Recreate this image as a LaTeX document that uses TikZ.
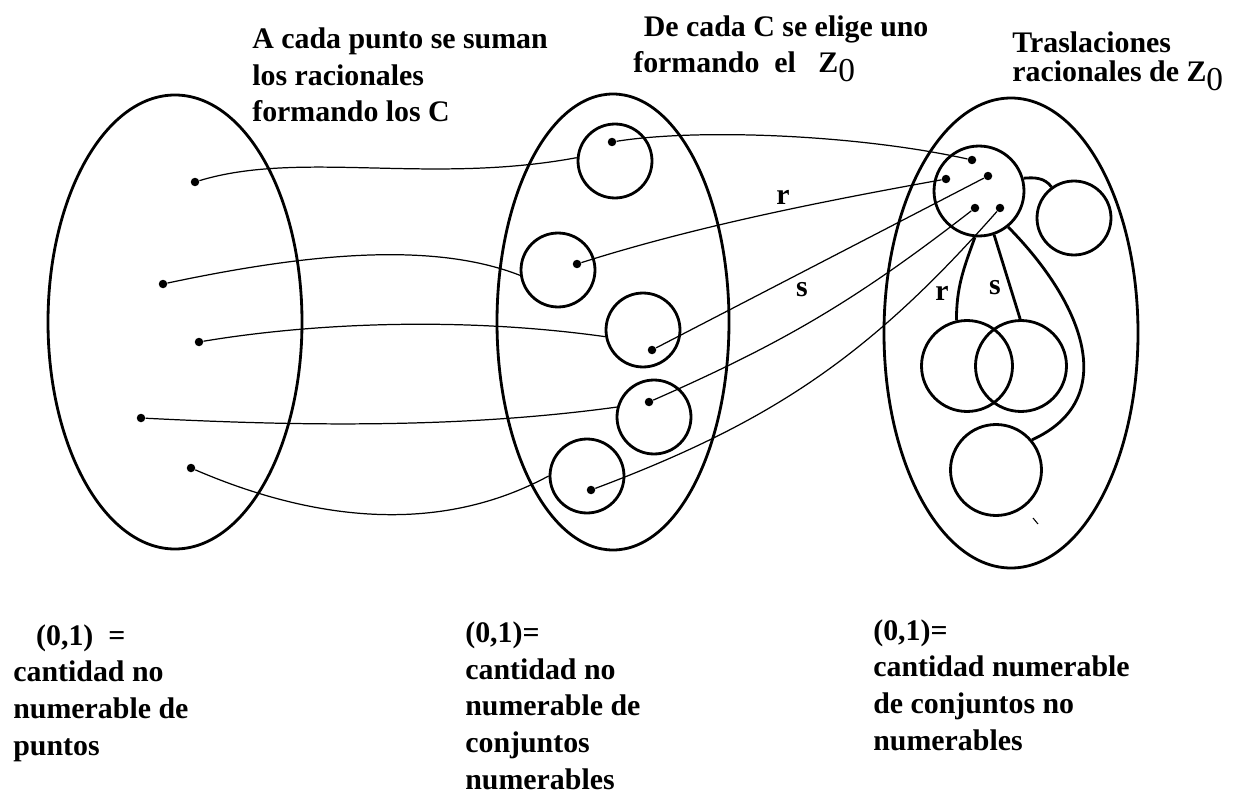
\documentclass[tikz,border=0pt]{standalone}
\usepackage{fontspec}
\setmainfont{Liberation Serif}

\begin{document}
\begin{tikzpicture}[x=0.02cm, y=-0.02cm,
    every node/.style={font=\bfseries\fontsize{17}{20.8}\selectfont, inner sep=0pt},
    conj/.style={circle, draw, line width=1.6pt, minimum size=1.48cm},
    grande/.style={circle, draw, line width=1.6pt, minimum size=1.82cm},
    punto/.style={circle, fill, minimum size=0.17cm},
    linea/.style={line width=0.7pt},
    gruesa/.style={line width=1.6pt}]
    \useasboundingbox (0,0) rectangle (1238,794);

    \draw[gruesa] (175,322) ellipse [x radius=127, y radius=227];
    \draw[gruesa] (613,322) ellipse [x radius=116, y radius=228];
    \draw[gruesa] (1011,333) ellipse [x radius=127, y radius=235];

    \node[punto] (p1) at (195,182) {};
    \node[punto] (p2) at (163,284) {};
    \node[punto] (p3) at (199,342) {};
    \node[punto] (p4) at (141,418) {};
    \node[punto] (p5) at (191,468) {};

    \node[conj] (c1) at (615,161) {};
    \node[conj] (c2) at (558,270) {};
    \node[conj] (c3) at (643,330) {};
    \node[conj] (c4) at (654,417) {};
    \node[conj] (c5) at (587,476) {};
    \node[punto] (q1) at (612,142) {};
    \node[punto] (q2) at (577,264) {};
    \node[punto] (q3) at (652,350) {};
    \node[punto] (q4) at (649,402) {};
    \node[punto] (q5) at (591,490) {};

    \node[circle, draw, line width=1.6pt, minimum size=1.8cm] (zc) at (979,191) {};
    \node[conj] (lado) at (1074,218) {};
    \node[grande] (tr) at (967,366) {};
    \node[grande] (ts) at (1021,366) {};
    \node[grande] (abajo) at (996,470) {};
    \node[punto] (z1) at (972,160) {};
    \node[punto] (z2) at (946,179) {};
    \node[punto] (z3) at (988,176) {};
    \node[punto] (z4) at (975,208) {};
    \node[punto] (z5) at (1000,208) {};

    \draw[linea] (p1) .. controls (300,150) and (430,185) .. (c1.175);
    \draw[linea] (p2) .. controls (300,255) and (430,240) .. (c2.188);
    \draw[linea] (p3) .. controls (300,325) and (450,315) .. (c3.190);
    \draw[linea] (p4) .. controls (280,425) and (450,430) .. (c4.165);
    \draw[linea] (p5) .. controls (300,515) and (430,540) .. (c5.180);

    \draw[linea] (q1) .. controls (700,128) and (860,135) .. (z1);
    \draw[linea] (q2) .. controls (700,225) and (830,200) .. (z2);
    \draw[linea] (q3) -- (z3);
    \draw[linea] (q4) to[bend right=7] (z4);
    \draw[linea] (q5) to[bend right=14] (z5);

    \draw[gruesa] (zc.16) to[out=5, in=126] (lado.126);
    \draw[gruesa] (zc.265) to[out=250, in=90] (tr.103);
    \draw[gruesa] (zc.-71) -- (ts.91);
    \draw[gruesa] (zc.-51) .. controls (1085,305) and (1120,400) .. (abajo.40);
    \draw[line width=0.6pt] (1033,518) -- (1038,524);

    \node (r1) at (783,197) {r};
    \node (s1) at (802,290) {s};
    \node (r2) at (942,293) {r};
    \node (s2) at (995,288) {s};

    \node[anchor=base west, align=left] (tC) at (252,122)
        {A cada punto se suman\\los racionales\\formando los C};
    \node[anchor=base west, align=left] (tZ) at (633,73)
        {\hspace{6pt}De cada C se elige uno\\formando\ \ el\ \ \ Z\raisebox{-5pt}{\mdseries\fontsize{19}{20}\selectfont 0}};
    \node[anchor=base west, align=left, font=\bfseries\fontsize{17}{17}\selectfont] (tT) at (1012,82)
        {Traslaciones\\racionales de Z\raisebox{-5pt}{\mdseries\fontsize{19}{20}\selectfont 0}};

    \node[anchor=base west, align=left] (bA) at (13,755)
        {\hspace{13pt}(0,1)\ \ =\\cantidad no\\numerable de\\puntos};
    \node[anchor=base west, align=left] (bB) at (465,789)
        {(0,1)=\\cantidad no\\numerable de\\conjuntos\\numerables};
    \node[anchor=base west, align=left] (bC) at (873,750)
        {(0,1)=\\cantidad numerable\\de conjuntos no\\numerables};
\end{tikzpicture}
\end{document}
